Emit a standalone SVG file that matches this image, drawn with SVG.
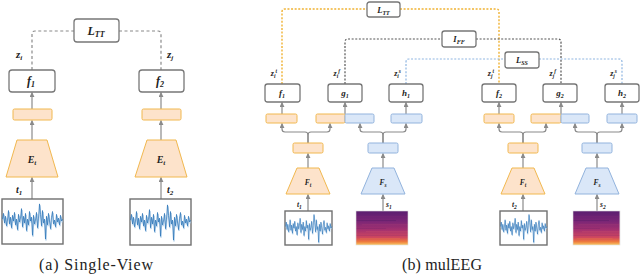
<svg xmlns="http://www.w3.org/2000/svg" xmlns:xlink="http://www.w3.org/1999/xlink" width="640" height="275" viewBox="0 0 640 275">
<style>
.box{fill:#fff;stroke:#777;stroke-width:1.3}
.or{fill:#fde3cb;stroke:#f1b84f;stroke-width:1}
.bl{fill:#dae7f8;stroke:#92b3dd;stroke-width:1}
.sig{fill:#fff;stroke:#6f6f6f;stroke-width:1.4}
.arr{fill:none;stroke:#8a8a8a;stroke-width:1.2;marker-end:url(#ah)}
.m{font-family:"Liberation Serif","DejaVu Serif",serif;font-style:italic;font-weight:bold;fill:#222}
.cap{font-family:"Liberation Serif","DejaVu Serif",serif;font-size:16px;fill:#222}
.dl{fill:none;stroke:#8a8a8a;stroke-width:1.2;stroke-dasharray:3 2.5}
.dor{fill:none;stroke:#f0b233;stroke-width:1.4;stroke-dasharray:2 1.6}
.dgr{fill:none;stroke:#555;stroke-width:1.2;stroke-dasharray:2 1.6}
.dbl{fill:none;stroke:#8fb6e2;stroke-width:1.2;stroke-dasharray:2 1.6}
.eeg{fill:none;stroke:#2f76b8;stroke-width:0.8;vector-effect:non-scaling-stroke}
.eeg2{fill:none;stroke:#9cc2e4;stroke-width:0.7;vector-effect:non-scaling-stroke}
</style>
<defs>
<marker id="ah" viewBox="0 0 6 6" refX="5.5" refY="3" markerWidth="5" markerHeight="5" markerUnits="userSpaceOnUse" orient="auto">
<path d="M0,0 L6,3 L0,6 z" fill="#8a8a8a"/>
</marker>
<linearGradient id="sg" x1="0" y1="0" x2="0" y2="1">
<stop offset="0" stop-color="#5a1e70"/>
<stop offset="0.3" stop-color="#7a2676"/>
<stop offset="0.55" stop-color="#a33170"/>
<stop offset="0.78" stop-color="#d0485e"/>
<stop offset="0.9" stop-color="#ee7a3e"/>
<stop offset="1" stop-color="#f9c863"/>
</linearGradient>
<path id="noise" d="M0,18 L1,12 L2,22 L3,15 L4,25 L5,19 L6,9 L7,23 L8,16 L9,27 L10,14 L11,20 L12,11 L13,24 L14,18 L15,29 L16,13 L17,21 L18,17 L19,7 L20,26 L21,15 L22,22 L23,12 L24,30 L25,18 L26,24 L27,10 L28,20 L29,16 L30,35 L31,14 L32,23 L33,19 L34,11 L35,27 L36,17 L37,2 L38,13 L39,25 L40,9 L41,22 L42,18 L43,39 L44,15 L45,24 L46,12 L47,20 L48,28 L49,16 L50,10 L51,23 L52,19 L53,26 L54,13 L55,21 L56,17 L57,24 L58,14 L59,20 L60,18"/>
<g id="eegsig">
<use xlink:href="#noise" class="eeg2" transform="translate(0.5,1.5)"/>
<use xlink:href="#noise" class="eeg"/>
</g>
<g id="spec">
<rect x="0" y="0" width="52" height="34" fill="url(#sg)"/>
<g opacity="0.18">
<rect x="0" y="5" width="52" height="1.2" fill="#8a2a78"/>
<rect x="0" y="9" width="40" height="1" fill="#2e1050"/>
<rect x="6" y="13" width="46" height="1.3" fill="#c04a78"/>
<rect x="0" y="17" width="30" height="1" fill="#5a1c6a"/>
<rect x="10" y="20" width="42" height="1.2" fill="#e06068"/>
<rect x="0" y="24" width="52" height="1" fill="#7a2570"/>
<rect x="4" y="27" width="40" height="1.2" fill="#f39040"/>
</g>
</g>
</defs>

<!-- Panel (a) connectors -->
<g id="connectors-a">
<path class="dl" d="M32,70 V34 Q32,31 35,31 H74"/>
<path class="dl" d="M119,31 H158 Q161,31 161,34 V70"/>
<line class="arr" x1="32" y1="109" x2="32" y2="92.5"/>
<line class="arr" x1="161" y1="109" x2="161" y2="92.5"/>
<line class="arr" x1="32" y1="140" x2="32" y2="120.5"/>
<line class="arr" x1="161" y1="140" x2="161" y2="120.5"/>
<line class="arr" x1="32" y1="199" x2="32" y2="177.5"/>
<line class="arr" x1="161" y1="199" x2="161" y2="177.5"/>
</g>

<g id="a-LTT"><rect class="box" x="74" y="19" width="45" height="23" rx="3"/>
<text class="m" x="96" y="35" font-size="12" text-anchor="middle">L<tspan font-size="8" dy="2">TT</tspan></text></g>
<g id="a-f1"><rect class="box" x="9" y="70" width="46" height="22" rx="3"/>
<text class="m" x="31" y="85" font-size="12" text-anchor="middle">f<tspan font-size="8" dy="2">1</tspan></text></g>
<g id="a-f2"><rect class="box" x="139" y="70" width="45" height="22" rx="3"/>
<text class="m" x="160" y="85" font-size="12" text-anchor="middle">f<tspan font-size="8" dy="2">2</tspan></text></g>
<g id="a-zi"><text class="m" x="16" y="58" font-size="11">z<tspan font-size="7" dy="2">i</tspan></text></g>
<g id="a-zj"><text class="m" x="167" y="58" font-size="11">z<tspan font-size="7" dy="2">j</tspan></text></g>
<g id="a-r1"><rect class="or" x="13" y="109" width="39" height="11" rx="1.5"/></g>
<g id="a-r2"><rect class="or" x="142" y="109" width="39" height="11" rx="1.5"/></g>
<g id="a-E1"><polygon class="or" points="17,140 47,140 58,177 6,177"/>
<text class="m" x="32" y="163" font-size="10" text-anchor="middle">E<tspan font-size="7" dy="2">t</tspan></text></g>
<g id="a-E2"><polygon class="or" points="147,140 176,140 187,177 135,177"/>
<text class="m" x="161" y="163" font-size="10" text-anchor="middle">E<tspan font-size="7" dy="2">t</tspan></text></g>
<g id="a-t1"><text class="m" x="16" y="193" font-size="10">t<tspan font-size="7" dy="2">1</tspan></text>
<rect class="sig" x="2" y="199" width="61" height="45"/>
<use xlink:href="#eegsig" transform="translate(2.5,202) scale(1,0.95)"/></g>
<g id="a-t2"><text class="m" x="167" y="193" font-size="10">t<tspan font-size="7" dy="2">2</tspan></text>
<rect class="sig" x="130" y="199" width="61" height="46"/>
<use xlink:href="#eegsig" transform="translate(130.5,203) scale(1,0.95)"/></g>
<text class="cap" x="39" y="270" textLength="114" lengthAdjust="spacing">(a) Single-View</text>

<!-- Panel (b) connectors -->
<g id="connectors-b">
<path class="dor" d="M282,84 V12 Q282,9 285,9 H367"/>
<path class="dor" d="M400,9 H496 Q499,9 499,12 V84"/>
<path class="dgr" d="M345,84 V42 Q345,39 348,39 H442"/>
<path class="dgr" d="M476,39 H558 Q561,39 561,42 V84"/>
<path class="dbl" d="M406,84 V62 Q406,59 409,59 H505"/>
<path class="dbl" d="M539,59 H619 Q622,59 622,62 V84"/>
<line class="arr" x1="282" y1="114" x2="282" y2="102.5"/>
<line class="arr" x1="345" y1="114" x2="345" y2="102.5"/>
<line class="arr" x1="406" y1="114" x2="406" y2="102.5"/>
<line class="arr" x1="499" y1="114" x2="499" y2="102.5"/>
<line class="arr" x1="561" y1="114" x2="561" y2="102.5"/>
<line class="arr" x1="622" y1="114" x2="622" y2="102.5"/>
<path class="arr" d="M308,143 V135 Q308,132 305,132 H285 Q282,132 282,129 V123.5"/>
<path class="arr" d="M308,143 V135 Q308,132 311,132 H327 Q330,132 330,129 V123.5"/>
<path class="arr" d="M383,143 V135 Q383,132 380,132 H363 Q360,132 360,129 V123.5"/>
<path class="arr" d="M383,143 V135 Q383,132 386,132 H403 Q406,132 406,129 V123.5"/>
<path class="arr" d="M523,143 V135 Q523,132 520,132 H502 Q499,132 499,129 V123.5"/>
<path class="arr" d="M523,143 V135 Q523,132 526,132 H543 Q546,132 546,129 V123.5"/>
<path class="arr" d="M597,143 V135 Q597,132 594,132 H578 Q575,132 575,129 V123.5"/>
<path class="arr" d="M597,143 V135 Q597,132 600,132 H619 Q622,132 622,129 V123.5"/>
<line class="arr" x1="308" y1="168" x2="308" y2="153.5"/>
<line class="arr" x1="383" y1="168" x2="383" y2="153.5"/>
<line class="arr" x1="523" y1="168" x2="523" y2="153.5"/>
<line class="arr" x1="597" y1="168" x2="597" y2="153.5"/>
<line class="arr" x1="308" y1="211" x2="308" y2="194.5"/>
<line class="arr" x1="383" y1="211" x2="383" y2="194.5"/>
<line class="arr" x1="523" y1="211" x2="523" y2="194.5"/>
<line class="arr" x1="597" y1="211" x2="597" y2="194.5"/>
</g>

<g id="b-LTT"><rect class="box" x="367" y="2" width="33" height="15" rx="2.5"/>
<text class="m" x="383.5" y="13" font-size="8.5" text-anchor="middle">L<tspan font-size="6" dy="1.5">TT</tspan></text></g>
<g id="b-IFF"><rect class="box" x="442" y="31" width="34" height="16" rx="2.5"/>
<text class="m" x="459" y="42" font-size="8.5" text-anchor="middle">I<tspan font-size="6" dy="1.5">FF</tspan></text></g>
<g id="b-LSS"><rect class="box" x="505" y="52" width="34" height="16" rx="2.5"/>
<text class="m" x="522" y="63" font-size="8.5" text-anchor="middle">L<tspan font-size="6" dy="1.5">SS</tspan></text></g>

<g id="b-f1"><rect class="box" x="265" y="84" width="35" height="18" rx="2.5"/>
<text class="m" x="282" y="96" font-size="9" text-anchor="middle">f<tspan font-size="6" dy="1.5">1</tspan></text>
<text class="m" x="277" y="76" font-size="8" text-anchor="end">z<tspan font-size="5.5" dy="1.5">i</tspan><tspan font-size="5.5" dy="-5">t</tspan></text></g>
<g id="b-g1"><rect class="box" x="328" y="84" width="34" height="18" rx="2.5"/>
<text class="m" x="345" y="96" font-size="9" text-anchor="middle">g<tspan font-size="6" dy="1.5">1</tspan></text>
<text class="m" x="340" y="76" font-size="8" text-anchor="end">z<tspan font-size="5.5" dy="1.5">i</tspan><tspan font-size="5.5" dy="-5">f</tspan></text></g>
<g id="b-h1"><rect class="box" x="389" y="84" width="34" height="18" rx="2.5"/>
<text class="m" x="406" y="96" font-size="9" text-anchor="middle">h<tspan font-size="6" dy="1.5">1</tspan></text>
<text class="m" x="401" y="76" font-size="8" text-anchor="end">z<tspan font-size="5.5" dy="1.5">i</tspan><tspan font-size="5.5" dy="-5">s</tspan></text></g>
<g id="b-f2"><rect class="box" x="482" y="84" width="34" height="18" rx="2.5"/>
<text class="m" x="499" y="96" font-size="9" text-anchor="middle">f<tspan font-size="6" dy="1.5">2</tspan></text>
<text class="m" x="494" y="76" font-size="8" text-anchor="end">z<tspan font-size="5.5" dy="1.5">j</tspan><tspan font-size="5.5" dy="-5">t</tspan></text></g>
<g id="b-g2"><rect class="box" x="543" y="84" width="34" height="18" rx="2.5"/>
<text class="m" x="560" y="96" font-size="9" text-anchor="middle">g<tspan font-size="6" dy="1.5">2</tspan></text>
<text class="m" x="556" y="76" font-size="8" text-anchor="end">z<tspan font-size="5.5" dy="1.5">j</tspan><tspan font-size="5.5" dy="-5">f</tspan></text></g>
<g id="b-h2"><rect class="box" x="605" y="84" width="34" height="18" rx="2.5"/>
<text class="m" x="622" y="96" font-size="9" text-anchor="middle">h<tspan font-size="6" dy="1.5">2</tspan></text>
<text class="m" x="617" y="76" font-size="8" text-anchor="end">z<tspan font-size="5.5" dy="1.5">j</tspan><tspan font-size="5.5" dy="-5">s</tspan></text></g>

<g id="b-proj1"><rect class="or" x="266" y="114" width="31" height="9" rx="1.5"/></g>
<g id="b-proj2"><rect class="or" x="316" y="114" width="29" height="9" rx="1.5"/><rect class="bl" x="345" y="114" width="29" height="9" rx="1.5"/></g>
<g id="b-proj3"><rect class="bl" x="391" y="114" width="31" height="9" rx="1.5"/></g>
<g id="b-proj4"><rect class="or" x="484" y="114" width="30" height="9" rx="1.5"/></g>
<g id="b-proj5"><rect class="or" x="531" y="114" width="30" height="9" rx="1.5"/><rect class="bl" x="561" y="114" width="28" height="9" rx="1.5"/></g>
<g id="b-proj6"><rect class="bl" x="607" y="114" width="30" height="9" rx="1.5"/></g>

<g id="b-emb-t1"><rect class="or" x="293" y="143" width="30" height="10" rx="1.5"/></g>
<g id="b-emb-s1"><rect class="bl" x="368" y="143" width="30" height="10" rx="1.5"/></g>
<g id="b-emb-t2"><rect class="or" x="508" y="143" width="30" height="10" rx="1.5"/></g>
<g id="b-emb-s2"><rect class="bl" x="582" y="143" width="30" height="10" rx="1.5"/></g>

<g id="b-Ft1"><polygon class="or" points="297,168 319,168 330,194 286,194"/>
<text class="m" x="308" y="185" font-size="7.5" text-anchor="middle">F<tspan font-size="5.5" dy="1.5">t</tspan></text></g>
<g id="b-Fs1"><polygon class="bl" points="372,168 394,168 405,194 361,194"/>
<text class="m" x="383" y="185" font-size="7.5" text-anchor="middle">F<tspan font-size="5.5" dy="1.5">s</tspan></text></g>
<g id="b-Ft2"><polygon class="or" points="512,168 534,168 545,194 501,194"/>
<text class="m" x="523" y="185" font-size="7.5" text-anchor="middle">F<tspan font-size="5.5" dy="1.5">t</tspan></text></g>
<g id="b-Fs2"><polygon class="bl" points="586,168 608,168 619,194 575,194"/>
<text class="m" x="597" y="185" font-size="7.5" text-anchor="middle">F<tspan font-size="5.5" dy="1.5">s</tspan></text></g>

<g id="b-t1"><text class="m" x="297" y="207" font-size="7.5">t<tspan font-size="5.5" dy="1.5">1</tspan></text>
<rect class="sig" x="285" y="211" width="47" height="34"/>
<use xlink:href="#eegsig" transform="translate(285.5,213) scale(0.77,0.75)"/></g>
<g id="b-s1"><text class="m" x="386" y="207" font-size="7.5">s<tspan font-size="5.5" dy="1.5">1</tspan></text>
<use xlink:href="#spec" transform="translate(356,211)"/>
<rect x="356" y="211" width="52" height="34" fill="none" stroke="#ddd" stroke-width="0.6"/></g>
<g id="b-t2"><text class="m" x="512" y="207" font-size="7.5">t<tspan font-size="5.5" dy="1.5">2</tspan></text>
<rect class="sig" x="500" y="211" width="47" height="34"/>
<use xlink:href="#eegsig" transform="translate(500.5,213) scale(0.77,0.75)"/></g>
<g id="b-s2"><text class="m" x="600" y="207" font-size="7.5">s<tspan font-size="5.5" dy="1.5">2</tspan></text>
<use xlink:href="#spec" transform="translate(573,211) scale(0.9,1)"/>
<rect x="573" y="211" width="47" height="34" fill="none" stroke="#ddd" stroke-width="0.6"/></g>

<text class="cap" x="402" y="270" textLength="80" lengthAdjust="spacing">(b) mulEEG</text>
</svg>
